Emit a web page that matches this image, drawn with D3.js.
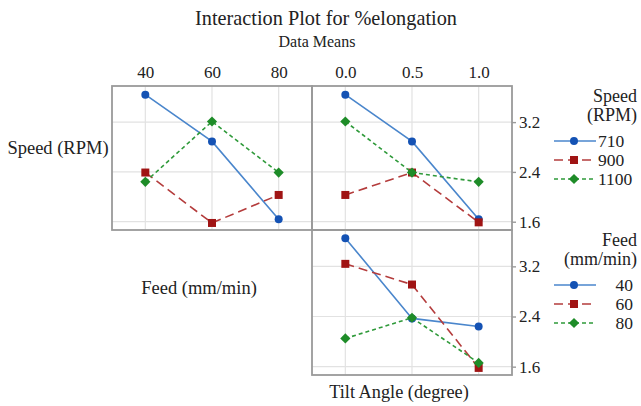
<!DOCTYPE html>
<html>
<head>
<meta charset="utf-8">
<script src="https://cdn.jsdelivr.net/npm/d3@7"></script>
<style>
  html, body { margin: 0; padding: 0; background: #fff; }
  svg { display: block; }
  text { font-family: "Liberation Serif", "Times New Roman", serif; fill: #222; }
</style>
</head>
<body>
<svg id="chart" width="641" height="406"></svg>
<script>
// Factor levels
const feedLevels = [40, 60, 80];
const tiltLevels = [0.0, 0.5, 1.0];
const speedLevels = ["710", "900", "1100"];
const feedNames = ["40", "60", "80"];
const yTicks = [1.6, 2.4, 3.2];

// Means of %elongation: Speed x Feed (one row per speed, columns = feed 40/60/80)
const speedFeed710 = [3.64, 2.89, 1.64];
const speedFeed900 = [2.39, 1.58, 2.03];
const speedFeed1100 = [2.24, 3.21, 2.39];

// Speed x Tilt angle (columns = tilt 0.0/0.5/1.0)
const speedTilt710 = [3.64, 2.89, 1.64];
const speedTilt900 = [2.03, 2.39, 1.59];
const speedTilt1100 = [3.21, 2.39, 2.24];

// Feed x Tilt angle (one row per feed)
const feedTilt40 = [3.65, 2.37, 2.24];
const feedTilt60 = [3.24, 2.91, 1.58];
const feedTilt80 = [2.05, 2.38, 1.66];

// circle / square / diamond (a square turned 45 degrees)
const styles = [
  { line: "#4a86cc", fill: "#1452b4", dash: null, shape: d3.symbolCircle, size: 50, rot: 0 },
  { line: "#b43c3c", fill: "#a01414", dash: "9,5", shape: d3.symbolSquare, size: 64, rot: 0 },
  { line: "#2f9a3a", fill: "#1e8c28", dash: "4,3", shape: d3.symbolSquare, size: 52, rot: 45 }
];

const svg = d3.select("#chart");

// Panel frames
const colFeed = [112, 312], colTilt = [312, 512];
const rowTop = [230, 86], rowBot = [375, 230];
const yDomain = [1.467, 3.78];

const xFeed = d3.scaleLinear().domain([30, 90]).range(colFeed);
const xTilt = d3.scaleLinear().domain([-0.25, 1.25]).range(colTilt);
const yTop = d3.scaleLinear().domain(yDomain).range(rowTop);
const yBot = d3.scaleLinear().domain(yDomain).range(rowBot);

function marker(sel, s) {
  sel.attr("d", d3.symbol().type(s.shape).size(s.size)).attr("fill", s.fill);
}

function panel(x, y, xs, seriesList) {
  const g = svg.append("g");
  const [x0, x1] = x.range();
  const [y0, y1] = y.range();
  // grid
  g.selectAll(".gx").data(xs).join("line")
    .attr("x1", d => x(d)).attr("x2", d => x(d))
    .attr("y1", y0).attr("y2", y1)
    .attr("stroke", "#e2e2e2").attr("stroke-width", 1.2);
  g.selectAll(".gy").data(yTicks).join("line")
    .attr("x1", x0).attr("x2", x1)
    .attr("y1", d => y(d)).attr("y2", d => y(d))
    .attr("stroke", "#e2e2e2").attr("stroke-width", 1.2);
  // series
  const line = d3.line().x((d, i) => x(xs[i])).y(d => y(d));
  seriesList.forEach((vals, k) => {
    const s = styles[k];
    g.append("path").datum(vals)
      .attr("d", line)
      .attr("fill", "none")
      .attr("stroke", s.line)
      .attr("stroke-width", 1.6)
      .attr("stroke-dasharray", s.dash);
    g.selectAll(null).data(vals).join("path")
      .attr("transform", (d, i) => `translate(${x(xs[i])},${y(d)}) rotate(${s.rot})`)
      .call(marker, s);
  });
  // frame
  g.append("rect")
    .attr("x", x0).attr("y", y1)
    .attr("width", x1 - x0).attr("height", y0 - y1)
    .attr("fill", "none").attr("stroke", "#9a9a9a").attr("stroke-width", 1.8);
}

panel(xFeed, yTop, feedLevels, [speedFeed710, speedFeed900, speedFeed1100]);
panel(xTilt, yTop, tiltLevels, [speedTilt710, speedTilt900, speedTilt1100]);
panel(xTilt, yBot, tiltLevels, [feedTilt40, feedTilt60, feedTilt80]);

// Top axes
const axisFeed = d3.axisTop(xFeed).tickValues(feedLevels).tickSize(0).tickPadding(8).tickFormat(d3.format("d"));
const axisTilt = d3.axisTop(xTilt).tickValues(tiltLevels).tickSize(0).tickPadding(8).tickFormat(d3.format(".1f"));
[axisFeed, axisTilt].forEach(ax => {
  const g = svg.append("g").attr("transform", "translate(0,86)").call(ax);
  g.select(".domain").remove();
  g.selectAll("text").attr("font-family", "Liberation Serif").attr("font-size", 17).attr("fill", "#222");
});

// Right axes
[yTop, yBot].forEach(ys => {
  const g = svg.append("g").attr("transform", "translate(512,0)")
    .call(d3.axisRight(ys).tickValues(yTicks).tickSize(4).tickPadding(3).tickFormat(d3.format(".1f")));
  g.select(".domain").remove();
  g.selectAll("line").attr("stroke", "#9a9a9a").attr("stroke-width", 1.4);
  g.selectAll("text").attr("font-family", "Liberation Serif").attr("font-size", 17).attr("fill", "#222");
});

// Titles
svg.append("text").attr("x", 326).attr("y", 25).attr("text-anchor", "middle")
  .attr("font-size", 20.3).text("Interaction Plot for %elongation");
svg.append("text").attr("x", 317).attr("y", 47).attr("text-anchor", "middle")
  .attr("font-size", 16).text("Data Means");

// Factor labels
svg.append("text").attr("x", 58).attr("y", 154).attr("text-anchor", "middle")
  .attr("font-size", 18.5).text("Speed (RPM)");
svg.append("text").attr("x", 199).attr("y", 294).attr("text-anchor", "middle")
  .attr("font-size", 18.5).text("Feed (mm/min)");
svg.append("text").attr("x", 399).attr("y", 398).attr("text-anchor", "middle")
  .attr("font-size", 18.3).text("Tilt Angle (degree)");

// Legends
function legend(titleLines, titleY, names, rowY, textX, anchor) {
  const g = svg.append("g");
  titleLines.forEach((t, i) => {
    g.append("text").attr("x", 637).attr("y", titleY + i * 19)
      .attr("text-anchor", "end").attr("font-size", 18).text(t);
  });
  names.forEach((n, k) => {
    const s = styles[k];
    const y = rowY + k * 19;
    g.append("line").attr("x1", 554).attr("x2", 596).attr("y1", y).attr("y2", y)
      .attr("stroke", s.line).attr("stroke-width", 1.6).attr("stroke-dasharray", s.dash);
    g.append("path").attr("transform", `translate(574,${y}) rotate(${s.rot})`)
      .call(marker, s);
    g.append("text").attr("x", textX).attr("y", y + 6)
      .attr("text-anchor", anchor).attr("font-size", 17.5).text(n);
  });
}
legend(["Speed", "(RPM)"], 102, speedLevels, 141, 598, "start");
legend(["Feed", "(mm/min)"], 246, feedNames, 285, 633, "end");
</script>
</body>
</html>
